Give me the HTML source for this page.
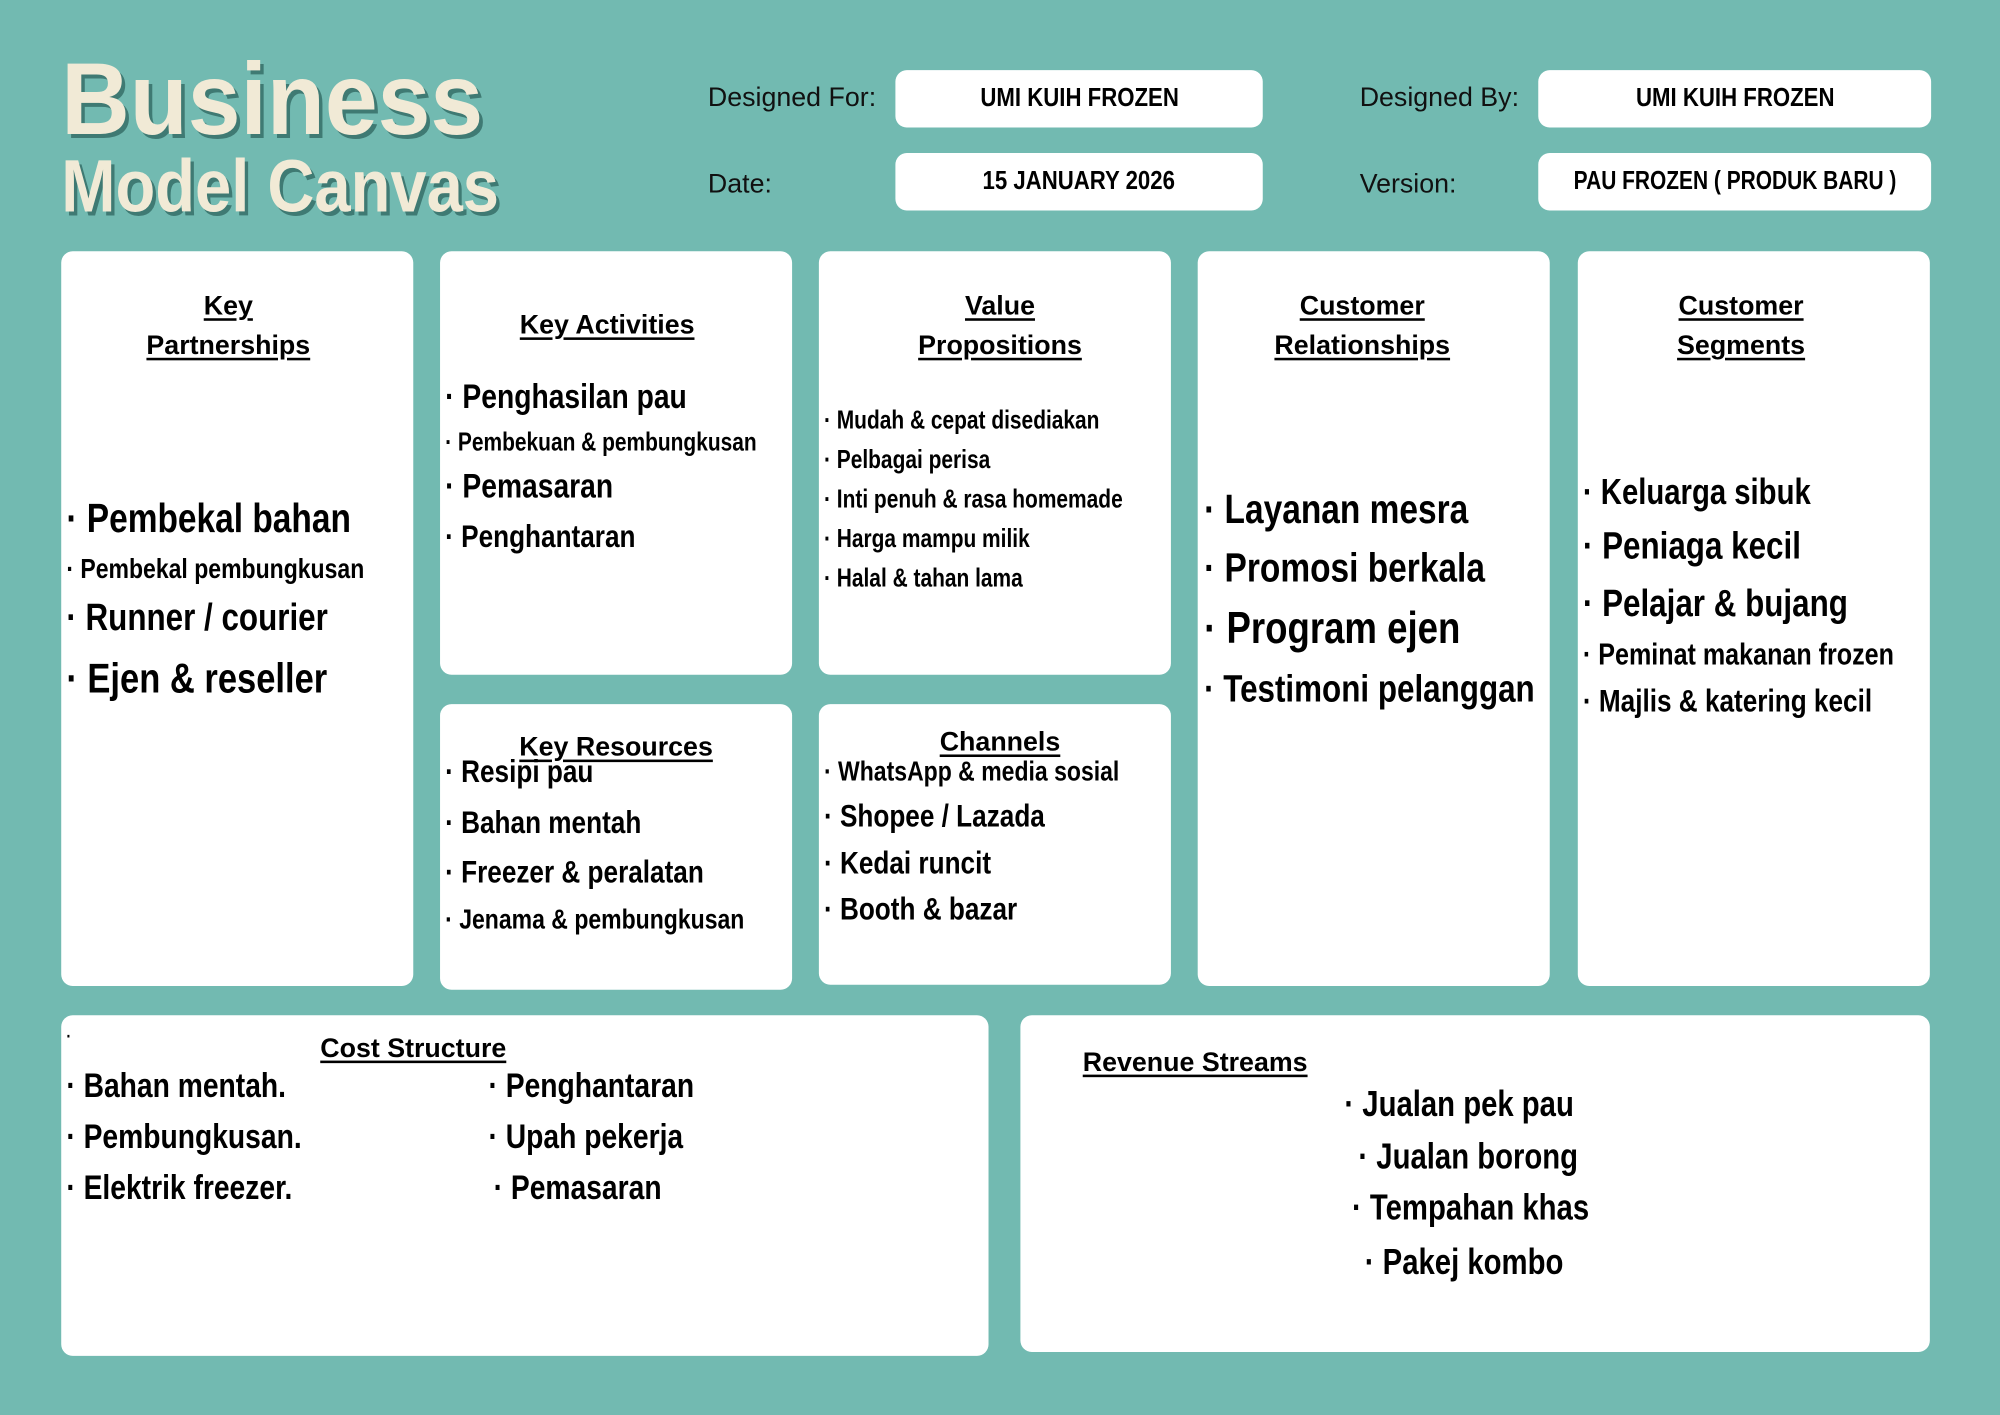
<!DOCTYPE html>
<html><head><meta charset="utf-8"><style>
html,body{margin:0;padding:0;width:2000px;height:1415px;overflow:hidden;background:#72bab1;}
#s{position:absolute;left:0;top:0;width:1568px;height:1109px;transform:scale(1.27551);transform-origin:0 0;}
.b{position:absolute;background:#fff;border-radius:9px;}
.t{position:absolute;white-space:nowrap;font-family:"Liberation Sans",sans-serif;font-weight:bold;color:#000;line-height:1;transform:scaleX(0.82);transform-origin:0 0;}
.h{position:absolute;white-space:nowrap;font-family:"Liberation Sans",sans-serif;font-size:21px;color:#000;text-decoration:underline;text-underline-offset:3px;line-height:1;transform:translate(-50%,-50%);font-weight:bold;}
.l{position:absolute;white-space:nowrap;font-family:"Liberation Sans",sans-serif;font-size:21px;color:#111;line-height:1;}
.v{position:absolute;font-family:"Liberation Sans",sans-serif;font-weight:bold;font-size:20px;display:flex;align-items:center;justify-content:center;white-space:nowrap;}
.v span{display:inline-block;transform:scaleX(0.87);}
</style></head><body><div id="s">
<div class="t" style="left:48px;top:38px;font-size:80px;color:#f1ead6;text-shadow:3px 3px 0 #3f7a73;transform:scaleX(0.93);">Business</div>
<div class="t" style="left:48px;top:118px;font-size:58px;color:#f1ead6;text-shadow:3px 3px 0 #3f7a73;transform:scaleX(0.88);">Model Canvas</div>
<div class="l" style="left:555px;top:66px;">Designed For:</div>
<div class="l" style="left:555px;top:134px;">Date:</div>
<div class="l" style="left:1066px;top:66px;">Designed By:</div>
<div class="l" style="left:1066px;top:134px;">Version:</div>
<div class="b v" style="left:702px;top:55px;width:288px;height:45px;"><span>UMI KUIH FROZEN</span></div>
<div class="b v" style="left:702px;top:120px;width:288px;height:45px;"><span>15 JANUARY 2026</span></div>
<div class="b v" style="left:1206px;top:55px;width:308px;height:45px;"><span>UMI KUIH FROZEN</span></div>
<div class="b v" style="left:1206px;top:120px;width:308px;height:45px;"><span style="transform:scaleX(0.82)">PAU FROZEN ( PRODUK BARU )</span></div>

<div class="b" style="left:48px;top:197px;width:276px;height:576px;"></div>
<div class="b" style="left:345px;top:197px;width:276px;height:332px;"></div>
<div class="b" style="left:345px;top:552px;width:276px;height:224px;"></div>
<div class="b" style="left:642px;top:197px;width:276px;height:332px;"></div>
<div class="b" style="left:642px;top:552px;width:276px;height:220px;"></div>
<div class="b" style="left:939px;top:197px;width:276px;height:576px;"></div>
<div class="b" style="left:1237px;top:197px;width:276px;height:576px;"></div>
<div class="b" style="left:48px;top:796px;width:727px;height:267px;"></div>
<div class="b" style="left:800px;top:796px;width:713px;height:264px;"></div>

<div class="h" style="left:179px;top:240px;">Key</div>
<div class="h" style="left:179px;top:271px;">Partnerships</div>
<div class="h" style="left:476px;top:255px;">Key Activities</div>
<div class="h" style="left:784px;top:240px;">Value</div>
<div class="h" style="left:784px;top:271px;">Propositions</div>
<div class="h" style="left:1068px;top:240px;">Customer</div>
<div class="h" style="left:1068px;top:271px;">Relationships</div>
<div class="h" style="left:1365px;top:240px;">Customer</div>
<div class="h" style="left:1365px;top:271px;">Segments</div>
<div class="h" style="left:483px;top:586px;">Key Resources</div>
<div class="h" style="left:784px;top:582px;">Channels</div>
<div class="h" style="left:324px;top:822px;">Cost Structure</div>
<div class="h" style="left:937px;top:833px;">Revenue Streams</div>

<div class="t" style="left:52px;top:390px;font-size:32px;">· Pembekal bahan</div>
<div class="t" style="left:52px;top:435px;font-size:22px;">· Pembekal pembungkusan</div>
<div class="t" style="left:52px;top:470px;font-size:30px;">· Runner / courier</div>
<div class="t" style="left:52px;top:515px;font-size:33px;">· Ejen &amp; reseller</div>

<div class="t" style="left:349px;top:298px;font-size:27px;">· Penghasilan pau</div>
<div class="t" style="left:349px;top:337px;font-size:20px;">· Pembekuan &amp; pembungkusan</div>
<div class="t" style="left:349px;top:368px;font-size:27px;">· Pemasaran</div>
<div class="t" style="left:349px;top:409px;font-size:25px;">· Penghantaran</div>

<div class="t" style="left:646px;top:320px;font-size:20px;">· Mudah &amp; cepat disediakan</div>
<div class="t" style="left:646px;top:351px;font-size:20px;">· Pelbagai perisa</div>
<div class="t" style="left:646px;top:382px;font-size:20px;">· Inti penuh &amp; rasa homemade</div>
<div class="t" style="left:646px;top:413px;font-size:20px;">· Harga mampu milik</div>
<div class="t" style="left:646px;top:444px;font-size:20px;">· Halal &amp; tahan lama</div>

<div class="t" style="left:944px;top:383px;font-size:32px;">· Layanan mesra</div>
<div class="t" style="left:944px;top:429px;font-size:32px;">· Promosi berkala</div>
<div class="t" style="left:944px;top:475px;font-size:35px;">· Program ejen</div>
<div class="t" style="left:944px;top:526px;font-size:30px;">· Testimoni pelanggan</div>

<div class="t" style="left:1241px;top:372px;font-size:28px;">· Keluarga sibuk</div>
<div class="t" style="left:1241px;top:414px;font-size:30px;">· Peniaga kecil</div>
<div class="t" style="left:1241px;top:459px;font-size:30px;">· Pelajar &amp; bujang</div>
<div class="t" style="left:1241px;top:502px;font-size:24px;">· Peminat makanan frozen</div>
<div class="t" style="left:1241px;top:538px;font-size:25px;">· Majlis &amp; katering kecil</div>

<div class="t" style="left:349px;top:593px;font-size:25px;">· Resipi pau</div>
<div class="t" style="left:349px;top:633px;font-size:25px;">· Bahan mentah</div>
<div class="t" style="left:349px;top:672px;font-size:25px;">· Freezer &amp; peralatan</div>
<div class="t" style="left:349px;top:710px;font-size:22px;">· Jenama &amp; pembungkusan</div>

<div class="t" style="left:646px;top:594px;font-size:22px;">· WhatsApp &amp; media sosial</div>
<div class="t" style="left:646px;top:628px;font-size:25px;">· Shopee / Lazada</div>
<div class="t" style="left:646px;top:665px;font-size:25px;">· Kedai runcit</div>
<div class="t" style="left:646px;top:701px;font-size:25px;">· Booth &amp; bazar</div>

<div class="t" style="left:52px;top:805px;font-size:14px;">·</div>
<div class="t" style="left:52px;top:838px;font-size:27px;">· Bahan mentah.</div>
<div class="t" style="left:52px;top:878px;font-size:27px;">· Pembungkusan.</div>
<div class="t" style="left:52px;top:918px;font-size:27px;">· Elektrik freezer.</div>
<div class="t" style="left:383px;top:838px;font-size:27px;">· Penghantaran</div>
<div class="t" style="left:383px;top:878px;font-size:27px;">· Upah pekerja</div>
<div class="t" style="left:387px;top:918px;font-size:27px;">· Pemasaran</div>

<div class="t" style="left:1054px;top:852px;font-size:28px;">· Jualan pek pau</div>
<div class="t" style="left:1065px;top:893px;font-size:28px;">· Jualan borong</div>
<div class="t" style="left:1060px;top:933px;font-size:28px;">· Tempahan khas</div>
<div class="t" style="left:1070px;top:976px;font-size:28px;">· Pakej kombo</div>
</div></body></html>
